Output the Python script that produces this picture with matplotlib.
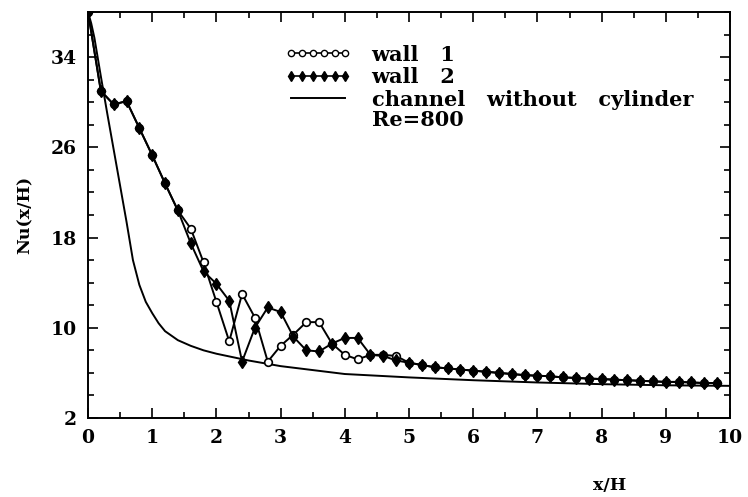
import numpy as np
import matplotlib
matplotlib.use("Agg")
import matplotlib.pyplot as plt
from matplotlib.ticker import MultipleLocator
from matplotlib.lines import Line2D

# x/H positions of the wall samples
x_wall = [round(0.2 * i, 1) for i in range(50)]

nu_wall1 = [38.0, 31.0, 29.8, 30.1, 27.7, 25.3, 22.8, 20.4, 18.8, 15.8,
            12.3, 8.8, 13.0, 10.9, 7.0, 8.4, 9.4, 10.5, 10.5, 8.6,
            7.6, 7.2, 7.6, 7.6, 7.5, 6.9, 6.7, 6.5, 6.4, 6.3,
            6.2, 6.1, 6.0, 5.9, 5.8, 5.75, 5.7, 5.6, 5.55, 5.5,
            5.45, 5.4, 5.35, 5.3, 5.25, 5.2, 5.2, 5.15, 5.1, 5.1]

nu_wall2 = [38.0, 31.0, 29.8, 30.1, 27.7, 25.3, 22.8, 20.4, 17.5, 15.0,
            13.9, 12.4, 7.0, 10.0, 11.8, 11.4, 9.2, 8.0, 7.9, 8.6,
            9.1, 9.1, 7.6, 7.5, 7.1, 6.9, 6.7, 6.5, 6.4, 6.3,
            6.2, 6.1, 6.0, 5.9, 5.8, 5.75, 5.7, 5.6, 5.55, 5.5,
            5.45, 5.4, 5.35, 5.3, 5.25, 5.2, 5.2, 5.15, 5.1, 5.1]

# channel without cylinder
x_chan = [0.0, 0.05, 0.1, 0.2, 0.3, 0.4, 0.5, 0.6, 0.7, 0.8, 0.9, 1.0, 1.1, 1.2,
          1.4, 1.6, 1.8, 2.0, 2.5, 3.0, 4.0, 5.0, 6.0, 7.0, 8.0, 9.0, 10.0]
nu_chan = [38.0, 37.0, 35.7, 32.3, 29.0, 25.8, 22.6, 19.4, 16.0, 13.8, 12.3, 11.3, 10.4, 9.7,
           8.9, 8.4, 8.0, 7.7, 7.1, 6.6, 5.9, 5.6, 5.35, 5.15, 5.0, 4.9, 4.85]

FONT = "DejaVu Serif"

fig = plt.figure(figsize=(7.48, 4.97), dpi=100)
ax = fig.add_axes([88 / 748, 1 - 418 / 497, 642 / 748, 406 / 497])

ax.plot(x_chan, nu_chan, color="black", lw=1.4)
ax.plot(x_wall, nu_wall1, color="black", lw=1.4, marker="o", ms=5.5,
        mfc="white", mec="black", mew=1.2)
ax.plot(x_wall, nu_wall2, color="black", lw=1.4, marker="d", ms=6.5,
        mfc="black", mec="black")

ax.set_xlim(0, 10)
ax.set_ylim(2, 38)
ax.xaxis.set_major_locator(MultipleLocator(1))
ax.xaxis.set_minor_locator(MultipleLocator(0.5))
ax.set_yticks([2, 10, 18, 26, 34])
ax.yaxis.set_minor_locator(MultipleLocator(2))
ax.tick_params(which="both", direction="in", top=True, right=True, width=1.2)
ax.tick_params(which="major", length=7, labelsize=13.5, pad=8)
ax.tick_params(which="minor", length=4)
for lbl in ax.get_xticklabels() + ax.get_yticklabels():
    lbl.set_fontfamily(FONT)
    lbl.set_fontweight("bold")
for s in ax.spines.values():
    s.set_linewidth(1.4)

ax.set_ylabel("Nu(x/H)", fontsize=12.5, fontfamily=FONT, fontweight="bold", labelpad=12)
fig.text(610 / 748, 1 - 485 / 497, "x/H", fontsize=12.5, fontfamily=FONT,
         fontweight="bold", ha="center", va="center")

handles = [
    Line2D([], [], color="black", lw=1.2, marker="o", ms=4.5, mfc="white", mec="black"),
    Line2D([], [], color="black", lw=1.2, marker="d", ms=5, mfc="black", mec="black"),
    Line2D([], [], color="black", lw=1.4),
]
labels = ["wall   1", "wall   2", "channel   without   cylinder"]
ax.legend(handles, labels, loc="upper left", bbox_to_anchor=(0.294, 0.94),
          borderaxespad=0, frameon=False, handlelength=3.2, handletextpad=0.95,
          labelspacing=0.12, numpoints=6,
          prop={"family": FONT, "weight": "bold", "size": 15})
ax.text(0.442, 0.735, "Re=800", transform=ax.transAxes, fontsize=15, fontfamily=FONT,
        fontweight="bold", va="center")

fig.savefig("out.png", dpi=100)
